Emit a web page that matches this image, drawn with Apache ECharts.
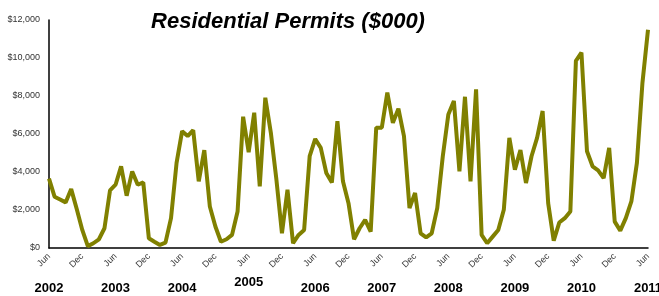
<!DOCTYPE html>
<html>
<head>
<meta charset="utf-8">
<script src="https://cdn.jsdelivr.net/npm/echarts@6/dist/echarts.min.js"></script>
<style>
  html, body { margin: 0; padding: 0; background: #fff; }
  #chart { width: 659px; height: 296px; }
</style>
</head>
<body>
<div id="chart"></div>
<script>
// monthly permits, Jun 2002 .. Jun 2011 ($000)
var permits = [
  3650, 2700, 2550, 2400, 3100, 2050, 950, 100, 250, 460, 1040, 3030,
  3330, 4300, 2750, 4030, 3330, 3450, 510, 330, 160, 280, 1570, 4480,
  6150, 5890, 6200, 3510, 5150, 2180, 1130, 330, 460, 690, 1920, 6910,
  5040, 7120, 3240, 7910, 6060, 3600, 775, 3070, 250, 690, 950, 4830,
  5740, 5270, 3950, 3450, 6680, 3510, 2360, 460, 1040, 1480, 860, 6330,
  6330, 8180, 6590, 7330, 5890, 2100, 2900, 775, 560, 775, 2100, 4830,
  7030, 7740, 4030, 7960, 3510, 8350, 690, 250, 600, 950, 2010, 5800,
  4120, 5150, 3420, 4830, 5800, 7210, 2360, 390, 1340, 1570, 1920, 9850,
  10290, 5090, 4300, 4090, 3680, 5270, 1390, 915, 1570, 2450, 4480, 8700,
  11490
]
var monthNames = ['Jan', 'Feb', 'Mar', 'Apr', 'May', 'Jun', 'Jul', 'Aug', 'Sep', 'Oct', 'Nov', 'Dec']
var startYear = 2002
var startMonth = 5 // June

var months = []
var years = []
for (var i = 0; i < permits.length; i++) {
  var m = (startMonth + i) % 12
  months.push(monthNames[m])
  years.push(String(startYear + Math.floor((startMonth + i) / 12)))
}

var dom = echarts.init(document.getElementById('chart'))
var option = {
  animation: false,
  title: {
    text: 'Residential Permits ($000)',
    left: 283,
    textAlign: 'center',
    top: 6,
    textStyle: {
      fontFamily: 'Liberation Sans, Arial',
      fontSize: 22,
      fontWeight: 'bold',
      fontStyle: 'italic',
      color: '#000'
    }
  },
  grid: {
    left: 49,
    right: 11,
    top: 20,
    bottom: 48,
    outerBoundsMode: 'none'
  },
  xAxis: [
    {
      type: 'category',
      boundaryGap: false,
      data: months,
      axisLine: { lineStyle: { color: '#000', width: 1.5 } },
      axisTick: { show: false },
      axisLabel: {
        interval: 5,
        rotate: 45,
        fontFamily: 'Liberation Sans, Arial',
        fontSize: 9,
        color: '#333',
        margin: 7
      }
    },
    {
      type: 'category',
      position: 'bottom',
      offset: 20,
      boundaryGap: false,
      data: years,
      axisLine: { show: false },
      axisTick: { show: false },
      axisLabel: {
        interval: function (index) { return index % 12 === 0 },
        fontFamily: 'Liberation Sans, Arial',
        fontSize: 13,
        fontWeight: 'bold',
        color: '#000',
        formatter: function (v) {
          return v === '2005' ? '{up|' + v + '}' : '{n|' + v + '}'
        },
        rich: {
          n: { fontSize: 13, fontWeight: 'bold', padding: [6, 0, 0, 0] },
          up: { fontSize: 13, fontWeight: 'bold', padding: [0, 0, 6, 0] }
        }
      }
    }
  ],
  yAxis: {
    type: 'value',
    min: 0,
    max: 12000,
    interval: 2000,
    splitLine: { show: false },
    axisLine: { show: true, lineStyle: { color: '#000', width: 1.5 } },
    axisTick: { show: false },
    axisLabel: {
      fontFamily: 'Liberation Sans, Arial',
      fontSize: 9,
      color: '#333',
      margin: 9,
      formatter: function (v) {
        return '$' + v.toLocaleString('en-US')
      }
    }
  },
  series: [
    {
      name: 'Residential Permits',
      type: 'line',
      data: permits,
      showSymbol: false,
      lineStyle: { color: '#808000', width: 4 },
      itemStyle: { color: '#808000' }
    }
  ]
}
dom.setOption(option)
</script>
</body>
</html>
